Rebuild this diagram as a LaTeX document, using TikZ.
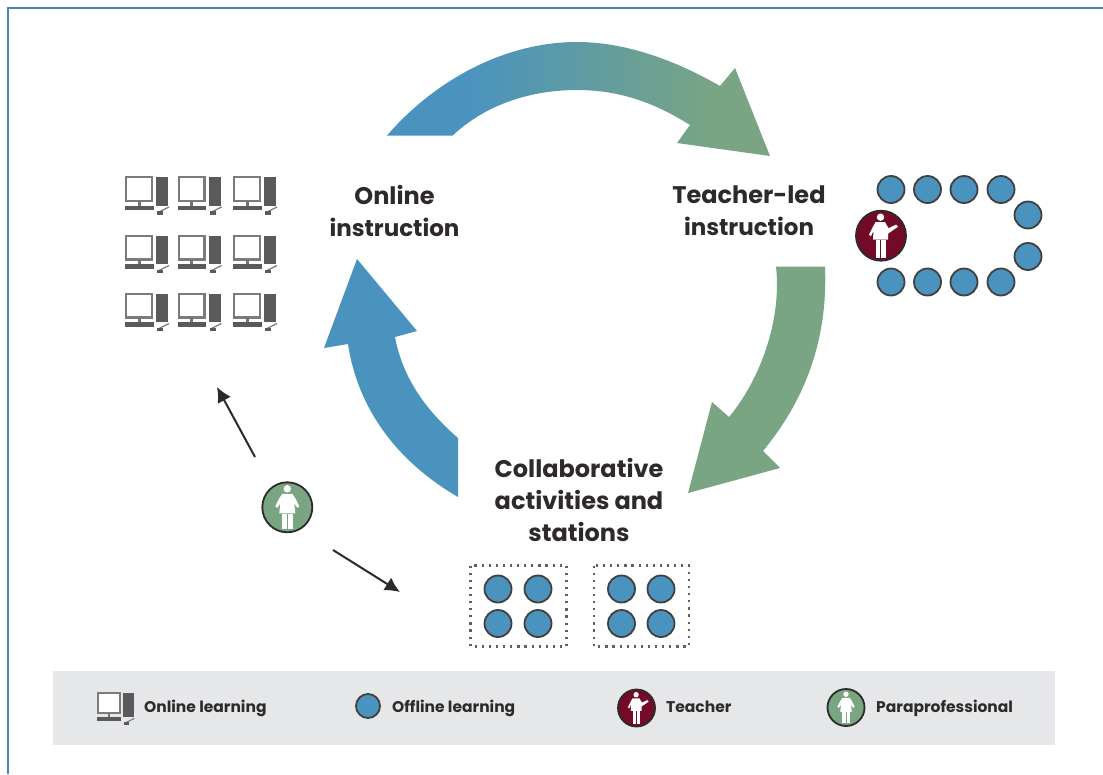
\documentclass[tikz,border=0pt]{standalone}
\usepackage{fontspec}
\usetikzlibrary{arrows.meta}
\setmainfont{Poppins}
\definecolor{bluef}{HTML}{4A93BF}
\definecolor{greenf}{HTML}{79A582}
\definecolor{redf}{HTML}{730A28}
\definecolor{inkc}{HTML}{2E2A2B}
\definecolor{greyc}{HTML}{5A5A5C}
\definecolor{band}{HTML}{E6E7E8}
\definecolor{framec}{HTML}{4F81BD}
\tikzset{
  student/.style={circle,draw=inkc!90,line width=1.8pt,fill=bluef,minimum size=27pt,inner sep=0pt},
  mainlabel/.style={font=\fontsize{24}{32}\selectfont\bfseries,text=inkc,align=center,inner sep=0pt},
  legendlabel/.style={font=\fontsize{15.5}{18}\selectfont\bfseries,text=inkc,anchor=base west,inner sep=0pt},
  dotbox/.style={draw=inkc!75,line width=2.2pt,dash pattern=on 2.2pt off 4.9pt},
  thinarrow/.style={draw=inkc,line width=2pt,-{Latex[length=15pt,width=15pt]}},
  badge/.style={circle,draw=inkc,line width=1.8pt,inner sep=0pt},
}
\newcommand{\pcicon}[3]{%
 \begin{scope}[shift={(#1,#2)},scale=#3]
  \draw[greyc!80,line width=2.4pt,fill=white] (1.2,1.2) rectangle (27,25);
  \fill[greyc!85] (12.5,25) rectangle (15.5,30);
  \fill[greyc] (0,29.5) rectangle (28.5,34);
  \fill[greyc] (31,1) rectangle (43,29.5);
  \draw[greyc!80,line width=1.2pt] (34,36) -- (44,31);
  \fill[greyc] (32,35) rectangle (38,38.5);
 \end{scope}}
\newcommand{\personbody}[3]{%
 \begin{scope}[shift={(#1,#2)},scale=#3]
  \fill[white] (0,-18.5) circle (3.7);
  \fill[white] (-5,-13.5) -- (5,-13.5) -- (8,-9) -- (12,-1) -- (10,0.5) -- (7,-4) -- (8,6) -- (-8,6) -- (-7,-4) -- (-10,0.5) -- (-12,-1) -- (-8,-9) -- cycle;
  \fill[white] (-5.5,6.5) rectangle (-0.7,22);
  \fill[white] (0.7,6.5) rectangle (5.5,22);
 \end{scope}}
\newcommand{\teacherbody}[3]{%
 \begin{scope}[shift={(#1,#2)},scale=#3]
  \fill[white] (-0.5,-18.5) circle (3.7);
  \fill[white] (-5.5,-13.5) -- (4,-13.5) -- (7.5,-7.5) -- (15,-11) -- (17,-9) -- (7,-2) -- (7,4) -- (-8,4) -- (-7.5,-5) -- (-10,0.5) -- (-12,-1) -- (-8,-9) -- cycle;
  \fill[white] (-5.5,4.5) rectangle (-0.7,22);
  \fill[white] (0,4.5) rectangle (4.8,22);
 \end{scope}}
\newcommand{\toparrowpath}{(387,135.5) .. controls (435,80) and (505,42) .. (577,42)
  .. controls (625,42) and (675,60) .. (720,86) -- (735,68) -- (770,156) -- (677,143) -- (690,125)
  .. controls (655,103) and (620,90) .. (577,90) .. controls (530,90) and (485,105) .. (452.7,135.5) -- cycle}
\begin{document}
\begin{tikzpicture}[x=1pt,y=-1pt]
\useasboundingbox (0,0) rectangle (1103,774);
\fill[white] (0,0) rectangle (1103,774);
% frame
\draw[framec,line width=2pt] (8,774) -- (8,7.5) -- (1103,7.5);
% big arrows
\begin{scope}
  \clip \toparrowpath;
  \fill[bluef] (380,30) rectangle (468,160);
  \shade[left color=bluef,right color=greenf] (467,30) rectangle (717,160);
  \fill[greenf] (716,30) rectangle (775,160);
\end{scope}
\fill[greenf] (776,266.7) -- (825,266.7) .. controls (828,340) and (805,400) .. (763,451) -- (780,468) -- (688,493) -- (712,402) -- (729,417)
  .. controls (760,380) and (782,320) .. (776,266.7) -- cycle;
\fill[bluef] (458,497) .. controls (398,462) and (358,410) .. (348,344) -- (324,348) -- (357,259) -- (417,331) -- (395,337)
  .. controls (403,380) and (428,412) .. (458,438) -- cycle;
% labels
\node[mainlabel] (online) at (394.5,211) {Online\\{\fontsize{23}{32}\selectfont instruction}};
\node[mainlabel] (teacherled) at (749,211) {Teacher-led\\{\fontsize{23}{32}\selectfont instruction}};
\node[mainlabel] (collab) at (579,499.5) {Collaborative\\activities and\\stations};
% computers
\foreach \x in {125,177.5,233} \foreach \y in {176,234.5,292.5} {\pcicon{\x}{\y}{1}}
% teacher group
\foreach \x/\n in {891/a,927.5/b,964/c,1001/d} {
  \node[student] (top\n) at (\x,189.5) {};
  \node[student] (bot\n) at (\x,282) {};
}
\node[student] (r1) at (1028,215) {};
\node[student] (r2) at (1028,256.5) {};
\node[badge,fill=redf,minimum size=50pt] (teacher) at (881,235.7) {};
\teacherbody{881}{235.7}{1}
% para
\node[badge,fill=greenf,minimum size=50pt] (para) at (287.3,507.3) {};
\personbody{287.3}{507.3}{1}
\coordinate (pa1) at (255,457);
\coordinate (pa2) at (217,387);
\coordinate (pb1) at (333,550);
\coordinate (pb2) at (400,592);
\draw[thinarrow] (pa1) -- (pa2);
\draw[thinarrow] (pb1) -- (pb2);
% stations
\draw[dotbox] (470.5,565.5) rectangle (566.5,646.5);
\draw[dotbox] (594,565.5) rectangle (689,646.5);
\foreach \x/\n in {498/a,538/b,621.5/c,661/d} \foreach \y/\m in {589/u,623.5/v} {\node[student] (s\n\m) at (\x,\y) {};}
% legend
\fill[band] (53,671) rectangle (1055,745);
\pcicon{97}{692}{0.85}
\node[legendlabel] (l1) at (144,712.5) {Online learning};
\node[student,minimum size=24pt] (l2i) at (368,706) {};
\node[legendlabel] (l2) at (392,712.5) {Offline learning};
\node[badge,fill=redf,minimum size=37pt] (l3i) at (636.5,708) {};
\teacherbody{636.5}{708}{0.72}
\node[legendlabel] (l3) at (666,712.5) {Teacher};
\node[badge,fill=greenf,minimum size=37pt] (l4i) at (846,707.5) {};
\personbody{846}{707.5}{0.72}
\node[legendlabel] (l4) at (876,712.5) {Paraprofessional};
\end{tikzpicture}
\end{document}
